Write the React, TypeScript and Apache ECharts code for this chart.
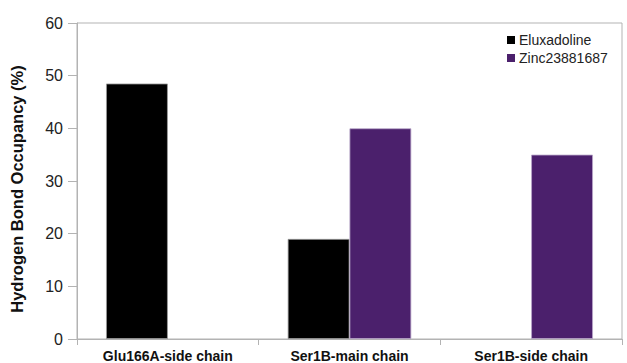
import React, { useEffect, useRef } from "react";
import * as echarts from "echarts";

const categories = ["Glu166A-side chain", "Ser1B-main chain", "Ser1B-side chain"];
const eluxadoline: (number | null)[] = [48.5, 19, null];
const zinc: (number | null)[] = [null, 40, 35];
const yTicks = { min: 0, max: 60, interval: 10 };

const FONT = "Liberation Sans, Arial, sans-serif";

export default function App() {
  const ref = useRef<HTMLDivElement>(null);
  useEffect(() => {
    if (!ref.current) return;
    const chart = echarts.init(ref.current, undefined, { renderer: "svg" });
    chart.setOption({
      animation: false,
      textStyle: { fontFamily: FONT },
      grid: {
        left: 77,
        right: 5,
        top: 23,
        bottom: 23,
        show: true,
        borderColor: "#b3b3b3",
        borderWidth: 1,
        containLabel: false,
      },
      legend: {
        orient: "vertical",
        left: 502,
        top: 28,
        itemWidth: 8,
        itemHeight: 8,
        itemGap: 4,
        icon: "rect",
        itemStyle: { borderWidth: 0 },
        textStyle: { fontSize: 14, color: "#222", fontFamily: FONT, padding: [0, 0, 0, -1] },
        data: ["Eluxadoline", "Zinc23881687"],
      },
      xAxis: {
        type: "category",
        data: categories,
        axisLine: { lineStyle: { color: "#b3b3b3", width: 1 } },
        axisTick: { show: true, length: 6, lineStyle: { color: "#b3b3b3" } },
        axisLabel: {
          fontSize: 14,
          fontWeight: "bold",
          color: "#111",
          margin: 10,
          fontFamily: FONT,
        },
      },
      yAxis: {
        type: "value",
        min: yTicks.min,
        max: yTicks.max,
        interval: yTicks.interval,
        name: "Hydrogen Bond Occupancy (%)",
        nameLocation: "middle",
        nameGap: 52,
        nameTextStyle: {
          fontSize: 16.5,
          fontWeight: "bold",
          color: "#111",
          fontFamily: FONT,
          padding: [0, 16, 0, 0],
        },
        axisLine: { show: true, lineStyle: { color: "#b3b3b3", width: 1 } },
        axisTick: { show: true, length: 9, lineStyle: { color: "#b3b3b3" } },
        splitLine: { show: false },
        axisLabel: { fontSize: 16, color: "#222", margin: 14, fontFamily: FONT },
      },
      series: [
        {
          name: "Eluxadoline",
          type: "bar",
          data: eluxadoline,
          barGap: "0%",
          barCategoryGap: "32%",
          itemStyle: { color: "#000000", borderColor: "#9a9a9a", borderWidth: 0.8 },
        },
        {
          name: "Zinc23881687",
          type: "bar",
          data: zinc,
          barGap: "0%",
          barCategoryGap: "32%",
          itemStyle: { color: "#4b206c", borderColor: "#b7a6c8", borderWidth: 0.8 },
        },
      ],
    });
    return () => chart.dispose();
  }, []);
  return <div ref={ref} style={{ width: 627, height: 363, position: "absolute", left: 0, top: 0 }} />;
}
